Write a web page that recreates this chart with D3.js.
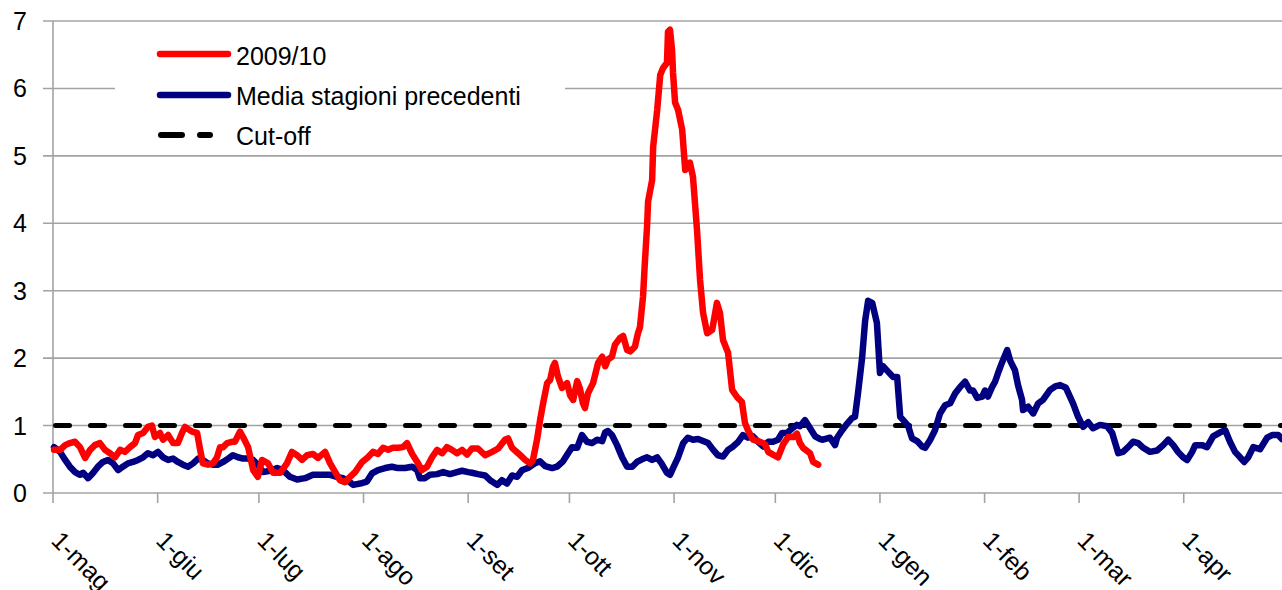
<!DOCTYPE html>
<html>
<head>
<meta charset="utf-8">
<script src="https://cdn.jsdelivr.net/npm/d3@7"></script>
<style>
  html, body { margin: 0; padding: 0; background: #ffffff; }
  svg { display: block; }
  text { font-family: "Liberation Sans", Arial, sans-serif; fill: #000; }
</style>
</head>
<body>
<div id="chart"></div>
<script>
// ---- Data (days since 1 May) ----
const monthLabels = ["1-mag","1-giu","1-lug","1-ago","1-set","1-ott","1-nov","1-dic","1-gen","1-feb","1-mar","1-apr"];
const monthDays   = [0, 31, 61, 92, 123, 153, 184, 214, 245, 276, 304, 335];
const yTicks = [0, 1, 2, 3, 4, 5, 6, 7];
const cutoff = 1;

const seriesNames = ["2009/10", "Media stagioni precedenti", "Cut-off"];

const redDays = [0.3,2.1,3.6,5.0,6.5,8.0,9.5,11.0,12.4,13.9,15.4,16.9,18.4,19.9,21.3,22.8,24.3,25.2,26.7,28.1,29.3,30.2,31.7,32.6,34.1,35.6,37.0,38.2,39.1,41.2,42.7,43.6,44.4,45.9,47.4,48.6,49.5,50.4,51.6,53.0,53.9,55.4,56.3,57.8,59.3,60.7,61.9,63.7,65.2,67.3,69.3,70.8,72.3,73.8,75.3,77.0,78.5,80.6,82.1,83.6,85.0,86.5,88.0,89.5,91.6,93.3,94.8,96.3,97.8,99.3,100.7,102.2,103.7,104.9,106.4,107.9,109.3,110.8,112.3,113.8,115.3,116.7,118.2,119.7,121.2,122.7,124.1,125.9,128.0,130.1,131.9,133.9,134.8,136.0,137.8,139.9,141.3,142.2,143.4,144.3,145.2,146.4,147.3,148.1,148.7,149.6,150.8,152.3,153.2,154.1,155.3,156.1,157.0,157.6,158.5,160.0,161.5,162.7,163.6,164.4,165.6,166.5,168.0,168.9,170.1,171.0,172.4,173.3,173.9,174.8,175.4,176.0,176.3,177.5,177.8,179.0,179.9,180.7,181.9,182.2,182.8,183.4,183.7,184.3,185.2,186.4,187.3,188.7,189.6,190.8,191.7,192.6,193.8,195.3,196.7,197.6,198.5,200.0,201.2,202.7,204.1,205.0,205.9,207.4,209.5,211.0,211.9,213.3,214.8,216.3,217.8,219.3,220.4,221.3,222.2,224.3,225.2,226.7];
const redValues = [0.64,0.64,0.71,0.74,0.76,0.68,0.52,0.64,0.71,0.74,0.64,0.59,0.53,0.64,0.61,0.68,0.74,0.86,0.89,0.98,1.0,0.83,0.89,0.79,0.86,0.74,0.74,0.89,0.98,0.91,0.89,0.64,0.44,0.42,0.44,0.53,0.68,0.68,0.74,0.76,0.76,0.91,0.83,0.68,0.34,0.24,0.49,0.44,0.30,0.30,0.44,0.61,0.56,0.49,0.56,0.58,0.52,0.61,0.44,0.31,0.19,0.16,0.24,0.31,0.46,0.53,0.61,0.58,0.67,0.64,0.67,0.67,0.68,0.74,0.58,0.46,0.34,0.39,0.53,0.64,0.59,0.68,0.64,0.59,0.64,0.57,0.66,0.66,0.56,0.61,0.66,0.79,0.81,0.67,0.59,0.49,0.44,0.49,0.79,1.08,1.33,1.63,1.68,1.87,1.93,1.73,1.56,1.63,1.45,1.38,1.66,1.55,1.33,1.26,1.48,1.63,1.93,2.02,1.88,1.98,2.02,2.20,2.30,2.33,2.12,2.10,2.17,2.37,2.46,2.91,3.46,3.95,4.32,4.64,5.13,5.68,6.20,6.30,6.38,6.84,6.87,6.57,6.23,5.79,5.68,5.39,4.79,4.90,4.69,3.90,3.16,2.67,2.37,2.42,2.82,2.67,2.27,2.08,1.53,1.42,1.35,1.04,0.93,0.79,0.76,0.72,0.61,0.57,0.53,0.72,0.83,0.83,0.88,0.74,0.67,0.59,0.46,0.42];

const blueDays = [0.3,2.1,3.6,5.0,6.5,8.0,8.9,10.4,11.9,13.3,14.8,16.3,17.8,19.3,20.7,22.2,23.7,25.2,26.7,28.1,29.6,31.1,32.6,34.1,35.6,37.0,38.5,40.0,41.5,43.0,44.4,45.9,47.4,48.9,50.4,51.9,53.3,54.8,56.3,57.8,59.3,60.7,62.2,64.3,66.4,68.1,70.2,72.3,74.7,77.0,79.7,82.1,84.1,85.9,88.0,88.9,91.0,93.0,94.5,96.3,98.4,100.4,102.2,104.3,106.4,107.9,108.7,110.2,111.7,113.8,115.6,117.6,119.7,121.2,123.0,124.1,125.9,128.0,129.5,131.6,133.0,134.5,136.0,137.5,139.0,140.7,142.8,144.3,145.8,147.9,149.3,151.1,152.6,153.8,155.3,156.7,158.2,159.7,161.2,162.7,163.6,164.4,165.6,167.1,168.6,170.1,171.6,173.0,174.5,176.0,177.5,179.0,180.4,181.9,182.8,183.7,185.2,186.7,188.1,189.6,191.1,192.6,194.1,195.6,197.0,198.5,200.0,201.5,203.0,204.4,205.9,207.4,208.9,210.4,211.9,213.3,214.8,216.0,217.5,219.0,220.4,221.3,222.8,224.3,225.8,227.3,228.1,230.2,231.7,232.3,233.8,235.3,236.7,237.6,238.5,239.7,240.6,241.5,242.7,244.1,245.0,245.9,247.4,248.9,250.1,251.0,251.9,253.3,254.5,256.0,257.5,258.4,259.9,261.3,262.8,264.3,265.8,267.3,268.7,270.2,271.7,272.6,273.8,275.3,276.1,277.0,278.2,279.1,280.0,281.2,282.7,283.6,285.0,285.9,287.1,287.4,288.9,290.4,291.9,293.3,295.4,296.9,298.4,300.1,302.2,303.7,305.2,306.7,308.1,310.2,312.3,313.8,314.7,315.6,317.0,318.5,320.0,321.5,323.0,325.0,327.1,328.9,330.4,331.9,333.3,334.8,336.0,337.5,338.4,340.4,341.9,343.7,345.8,347.3,348.7,350.2,351.7,352.9,354.1,355.6,357.6,359.7,361.2,363.0,364.1];
const blueValues = [0.68,0.61,0.49,0.39,0.31,0.27,0.30,0.22,0.30,0.39,0.46,0.49,0.44,0.34,0.39,0.44,0.46,0.49,0.53,0.59,0.56,0.61,0.53,0.49,0.51,0.46,0.42,0.39,0.44,0.51,0.49,0.44,0.42,0.42,0.46,0.51,0.56,0.53,0.51,0.51,0.49,0.42,0.31,0.33,0.37,0.34,0.24,0.20,0.22,0.27,0.27,0.27,0.24,0.22,0.16,0.12,0.14,0.17,0.29,0.34,0.37,0.39,0.37,0.37,0.39,0.34,0.22,0.22,0.27,0.28,0.31,0.28,0.31,0.33,0.31,0.30,0.28,0.26,0.19,0.12,0.19,0.14,0.26,0.24,0.34,0.37,0.44,0.47,0.40,0.37,0.39,0.47,0.59,0.68,0.67,0.86,0.76,0.74,0.79,0.77,0.90,0.92,0.86,0.71,0.53,0.39,0.39,0.46,0.50,0.53,0.49,0.53,0.43,0.30,0.27,0.37,0.53,0.74,0.82,0.79,0.80,0.77,0.74,0.64,0.56,0.54,0.64,0.69,0.76,0.86,0.82,0.84,0.76,0.69,0.76,0.76,0.79,0.89,0.89,0.96,1.01,0.99,1.08,0.96,0.84,0.80,0.79,0.82,0.71,0.82,0.93,1.03,1.11,1.13,1.48,2.00,2.55,2.85,2.82,2.52,1.78,1.88,1.80,1.72,1.72,1.13,1.08,1.00,0.81,0.77,0.69,0.67,0.79,0.93,1.18,1.30,1.33,1.48,1.57,1.65,1.52,1.52,1.41,1.43,1.52,1.43,1.57,1.65,1.78,1.94,2.12,1.96,1.82,1.60,1.38,1.23,1.28,1.18,1.33,1.38,1.53,1.58,1.60,1.56,1.33,1.13,0.98,1.05,0.96,1.01,0.99,0.89,0.74,0.59,0.61,0.68,0.76,0.74,0.67,0.61,0.63,0.71,0.79,0.71,0.61,0.53,0.49,0.61,0.71,0.71,0.68,0.84,0.90,0.93,0.76,0.61,0.53,0.46,0.53,0.68,0.65,0.82,0.86,0.86,0.80];

// ---- Layout ----
const W = 1282, H = 590;
const x = d3.scaleLinear().domain([0, 365]).range([53, 1285]);
const y = d3.scaleLinear().domain([0, 7]).range([493, 21]);

const svg = d3.select("#chart").append("svg")
  .attr("width", W).attr("height", H)
  .style("background", "#fff");

const gray = "#a3a3a3";

// gridlines + y tick marks
svg.append("g").selectAll("line").data(yTicks).join("line")
  .attr("x1", 43).attr("x2", W)
  .attr("y1", d => y(d)).attr("y2", d => y(d))
  .attr("stroke", gray).attr("stroke-width", 1.6);

// y axis line
svg.append("line").attr("x1", x(0)).attr("x2", x(0))
  .attr("y1", y(7)).attr("y2", y(0))
  .attr("stroke", gray).attr("stroke-width", 1.6);

// y labels
svg.append("g").selectAll("text").data(yTicks).join("text")
  .attr("x", 27).attr("y", d => y(d) + 9)
  .attr("text-anchor", "end")
  .style("font-size", "25px")
  .text(d => d);

// x ticks
svg.append("g").selectAll("line").data(monthDays).join("line")
  .attr("x1", d => x(d)).attr("x2", d => x(d))
  .attr("y1", y(0)).attr("y2", y(0) + 10)
  .attr("stroke", gray).attr("stroke-width", 1.6);

// x labels rotated
svg.append("g").selectAll("text").data(monthDays).join("text")
  .attr("transform", d => `translate(${x(d) - 3},${y(0) + 49}) rotate(45)`)
  .attr("text-anchor", "start")
  .style("font-size", "25px")
  .text((d, i) => monthLabels[i]);

// legend box (white background covering grid)
svg.append("rect").attr("x", 115).attr("y", 32).attr("width", 450).attr("height", 116)
  .attr("fill", "#fff");

// cut-off line
svg.append("line")
  .attr("x1", x(0) + 2.5).attr("x2", W)
  .attr("y1", y(cutoff)).attr("y2", y(cutoff))
  .attr("stroke", "#000").attr("stroke-width", 5)
  .attr("stroke-dasharray", "14,21")
  .attr("stroke-linecap", "round");

const line = d3.line().x(d => x(d[0])).y(d => y(d[1]));

const blueData = blueDays.map((d, i) => [d, blueValues[i]]);
const redData = redDays.map((d, i) => [d, redValues[i]]);

svg.append("path").datum(blueData).attr("d", line)
  .attr("fill", "none").attr("stroke", "#000080").attr("stroke-width", 6.5)
  .attr("stroke-linejoin", "round").attr("stroke-linecap", "round");

svg.append("path").datum(redData).attr("d", line)
  .attr("fill", "none").attr("stroke", "#ff0000").attr("stroke-width", 6.5)
  .attr("stroke-linejoin", "round").attr("stroke-linecap", "round");

// legend
const legY = [54, 95, 135];
const legTextY = [65, 105, 145];
svg.append("line").attr("x1", 160).attr("x2", 228).attr("y1", legY[0]).attr("y2", legY[0])
  .attr("stroke", "#ff0000").attr("stroke-width", 6.5).attr("stroke-linecap", "round");
svg.append("line").attr("x1", 160).attr("x2", 228).attr("y1", legY[1]).attr("y2", legY[1])
  .attr("stroke", "#000080").attr("stroke-width", 6.5).attr("stroke-linecap", "round");
svg.append("line").attr("x1", 161).attr("x2", 210).attr("y1", legY[2]).attr("y2", legY[2])
  .attr("stroke", "#000").attr("stroke-width", 6).attr("stroke-linecap", "round")
  .attr("stroke-dasharray", "21,18");

svg.append("g").selectAll("text").data(seriesNames).join("text")
  .attr("x", 236).attr("y", (d, i) => legTextY[i])
  .style("font-size", "25px")
  .text(d => d);
</script>
</body>
</html>
